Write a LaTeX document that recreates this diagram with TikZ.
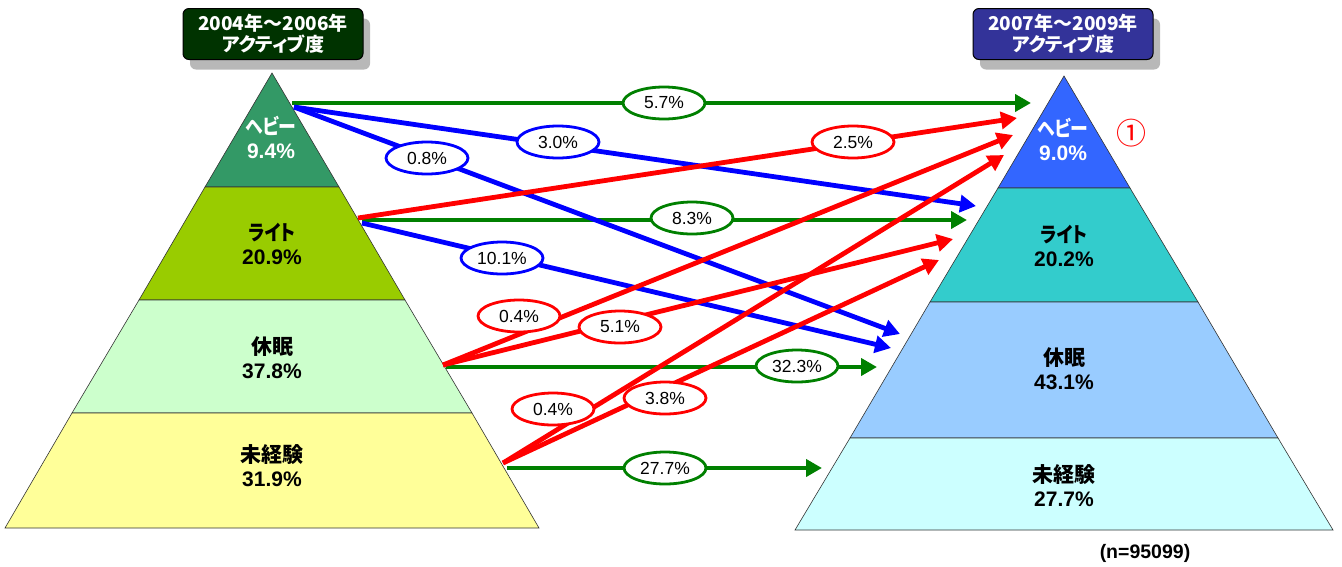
\documentclass[tikz,border=0pt]{standalone}
\usepackage{fontspec}
\setmainfont{Liberation Sans}
\newfontfamily\jp{Noto Sans CJK JP}
\newfontfamily\jpp{Noto Sans CJK JP}[RawFeature=+palt]
\newcommand{\narrowjp}[1]{\scalebox{0.85}[1]{\jpp #1}}
\usetikzlibrary{shapes.geometric,arrows.meta,shadows}
\definecolor{lheavy}{HTML}{339966}
\definecolor{llight}{HTML}{99CC00}
\definecolor{lrest}{HTML}{CCFFCC}
\definecolor{lnew}{HTML}{FFFF99}
\definecolor{rheavy}{HTML}{3366FF}
\definecolor{rlight}{HTML}{33CCCC}
\definecolor{rrest}{HTML}{99CCFF}
\definecolor{rnew}{HTML}{CCFFFF}
\definecolor{gline}{HTML}{008000}
\definecolor{bline}{HTML}{0000FF}
\definecolor{rline}{HTML}{FF0000}
\definecolor{lbox}{HTML}{003300}
\definecolor{rbox}{HTML}{333399}
\definecolor{shadowgray}{HTML}{B8B8B8}
\tikzset{
  layer/.style={draw=black!80, line width=0.6pt},
  lay/.style={align=center, inner sep=0pt, font=\bfseries\fontsize{21}{24}\selectfont},
  title/.style={draw=black, line width=1pt, rounded corners=6pt, minimum width=180pt, minimum height=51pt,
    inner sep=0pt, text=white, align=center, font=\jpp\bfseries\fontsize{19}{21}\selectfont,
    general shadow={fill=shadowgray, shadow xshift=7pt, shadow yshift=-10pt}},
  flow/.style={line width=4.8pt, -{Triangle[length=16pt,width=17pt]}},
  gflow/.style={flow, draw=gline},
  bflow/.style={flow, draw=bline},
  rflow/.style={flow, draw=rline},
  lab/.style={ellipse, draw, fill=white, line width=2.8pt, minimum width=82pt, minimum height=32pt,
    inner sep=0pt, font=\fontsize{17.5}{19}\selectfont},
  glab/.style={lab, draw=gline},
  blab/.style={lab, draw=bline},
  rlab/.style={lab, draw=rline},
}
\begin{document}
\begin{tikzpicture}[x=1pt,y=-1pt]
\useasboundingbox (0,0) rectangle (1342,566);
% left pyramid
\filldraw[layer, fill=lheavy] (272,73) -- (339,187) -- (205,187) -- cycle;
\filldraw[layer, fill=llight] (205,187) -- (339,187) -- (405,300) -- (139,300) -- cycle;
\filldraw[layer, fill=lrest] (139,300) -- (405,300) -- (472,413) -- (72,413) -- cycle;
\filldraw[layer, fill=lnew] (72,413) -- (472,413) -- (539,528) -- (5,528) -- cycle;
% right pyramid
\filldraw[layer, fill=rheavy] (1064,76) -- (1130,188) -- (998,188) -- cycle;
\filldraw[layer, fill=rlight] (998,188) -- (1130,188) -- (1198,302) -- (930,302) -- cycle;
\filldraw[layer, fill=rrest] (930,302) -- (1198,302) -- (1278,438) -- (850,438) -- cycle;
\filldraw[layer, fill=rnew] (850,438) -- (1278,438) -- (1333,530) -- (795,530) -- cycle;
% layer texts
\node[lay, text=white] (lh) at (271,137) {\narrowjp{ヘビー}\\9.4\%};
\node[lay] (ll) at (272,244) {\narrowjp{ライト}\\20.9\%};
\node[lay] (lr) at (272,358) {{\jpp 休眠}\\37.8\%};
\node[lay] (ln) at (272,466) {{\jpp 未経験}\\31.9\%};
\node[lay, text=white] (rh) at (1063,139) {\narrowjp{ヘビー}\\9.0\%};
\node[lay] (rl) at (1064,246) {\narrowjp{ライト}\\20.2\%};
\node[lay] (rr) at (1064,369) {{\jpp 休眠}\\43.1\%};
\node[lay] (rn) at (1064,486) {{\jpp 未経験}\\27.7\%};
% titles
\node[title, fill=lbox] (tl) at (273,34) {2004年～2006年\\アクティブ度};
\node[title, fill=rbox] (tr) at (1063,34) {2007年～2009年\\アクティブ度};
% endpoints
\coordinate (LH1) at (292,103); \coordinate (LH2) at (294,107);
\coordinate (LL1) at (358,218); \coordinate (LL2) at (362,220); \coordinate (LL3) at (362,223);
\coordinate (LR1) at (443,365); \coordinate (LR2) at (446,367);
\coordinate (LN1) at (503,463); \coordinate (LN2) at (507,468);
\coordinate (TH1) at (1031,103); \coordinate (TH2) at (1017,118);
\coordinate (TH3) at (1013,135); \coordinate (TH4) at (1004,155);
\coordinate (TL1) at (976,206); \coordinate (TL2) at (967,220);
\coordinate (TL3) at (953,239); \coordinate (TL4) at (939,260);
\coordinate (TR1) at (900,334); \coordinate (TR2) at (891,348); \coordinate (TR3) at (877,367);
\coordinate (TN1) at (822,468);
% green
\draw[gflow] (LH1) -- (TH1);
\draw[gflow] (LL2) -- (TL2);
\draw[gflow] (LR2) -- (TR3);
\draw[gflow] (LN2) -- (TN1);
% blue
\draw[bflow] (LH2) -- (TL1);
\draw[bflow] (LH2) -- (TR1);
\draw[bflow] (LL3) -- (TR2);
% red
\draw[rflow] (LL1) -- (TH2);
\draw[rflow] (LR1) -- (TH3);
\draw[rflow] (LR1) -- (TL3);
\draw[rflow] (LN1) -- (TH4);
\draw[rflow] (LN1) -- (TL4);
% labels
\node[glab] (g1) at (664,103) {5.7\%};
\node[blab] (b1) at (558,142) {3.0\%};
\node[blab] (b2) at (427,158) {0.8\%};
\node[glab] (g2) at (692,218) {8.3\%};
\node[blab] (b3) at (502,258) {10.1\%};
\node[rlab] (r1) at (853,142) {2.5\%};
\node[rlab] (r2) at (519,316) {0.4\%};
\node[rlab] (r3) at (620,327) {5.1\%};
\node[glab] (g3) at (797,366) {32.3\%};
\node[rlab] (r4) at (553,409) {0.4\%};
\node[rlab] (r5) at (665,398) {3.8\%};
\node[glab] (g4) at (665,468) {27.7\%};
% notes
\node[text=rline, inner sep=0pt, font=\jp\fontsize{30}{30}\selectfont] (one) at (1131,133) {①};
\node[inner sep=0pt, font=\bfseries\fontsize{19.5}{21}\selectfont] (n) at (1145,553) {(n=95099)};
\end{tikzpicture}
\end{document}
